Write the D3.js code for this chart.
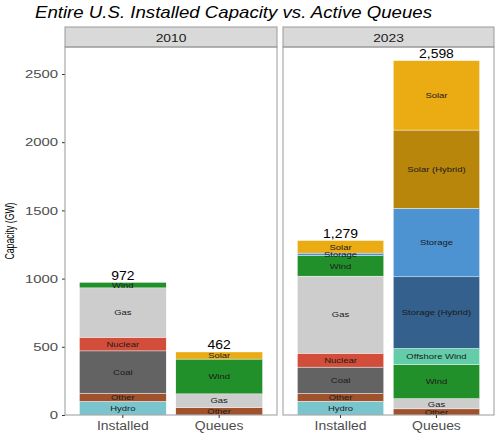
<!DOCTYPE html>
<html>
<head>
<meta charset="utf-8">
<script src="https://cdn.jsdelivr.net/npm/d3@7"></script>
<style>
  body { margin: 0; background: #fff; }
  svg { display: block; font-family: "Liberation Sans", Arial, sans-serif; }
</style>
</head>
<body>
<svg id="chart" width="499" height="435"></svg>
<script>
// ---- data ----
const years = ["2010", "2023"];
const categories = ["Installed", "Queues"];
const techs = ["Hydro", "Other", "Coal", "Nuclear", "Gas", "Wind", "Offshore Wind", "Storage (Hybrid)", "Storage", "Solar (Hybrid)", "Solar"];
const techColors = ["#7ac5cd", "#a0522d", "#636363", "#d24e3a", "#cdcdcd", "#22902a", "#63cdaa", "#33608c", "#4d93d2", "#b8860b", "#ebab13"];
const yTicks = [0, 500, 1000, 1500, 2000, 2500];
// stacks bottom → top
const installed2010 = [["Hydro", 100], ["Other", 60], ["Coal", 310], ["Nuclear", 100], ["Gas", 362], ["Wind", 40]];
const queues2010 = [["Other", 55], ["Gas", 100], ["Wind", 255], ["Solar", 52]];
const installed2023 = [["Hydro", 101], ["Other", 57], ["Coal", 193], ["Nuclear", 102], ["Gas", 565], ["Wind", 151], ["Storage", 18], ["Solar", 92]];
const queues2023 = [["Other", 45], ["Gas", 75], ["Wind", 251], ["Offshore Wind", 117], ["Storage (Hybrid)", 525], ["Storage", 502], ["Solar (Hybrid)", 574], ["Solar", 509]];
const totals = { "2010": { Installed: 972, Queues: 462 }, "2023": { Installed: 1279, Queues: 2598 } };

const stacks = {
  "2010": { Installed: installed2010, Queues: queues2010 },
  "2023": { Installed: installed2023, Queues: queues2023 }
};

const color = d3.scaleOrdinal().domain(techs).range(techColors);

// widen glyphs horizontally (reference text is stretched)
function stretch(sel, k) {
  sel.each(function () {
    const w = this.getComputedTextLength();
    if (w > 0) {
      this.setAttribute("textLength", w * k);
      this.setAttribute("lengthAdjust", "spacingAndGlyphs");
    }
  });
}

const svg = d3.select("#chart");

// title
const title = svg.append("text").attr("x", 35).attr("y", 18)
  .attr("font-size", 16.5).attr("font-style", "italic").attr("fill", "#000")
  .text("Entire U.S. Installed Capacity vs. Active Queues");
title.attr("textLength", 397).attr("lengthAdjust", "spacingAndGlyphs");

// layout
const panelTop = 47, panelBottom = 415, stripTop = 27;
const panelX = { "2010": [65, 277], "2023": [283, 494] };

const y = d3.scaleLinear().domain([0, 2500]).range([panelBottom, 74]);

// y axis label
svg.append("text")
  .attr("transform", `translate(14,${(panelTop + panelBottom) / 2}) rotate(-90)`)
  .attr("text-anchor", "middle").attr("font-size", 12).attr("fill", "#000")
  .attr("textLength", 57).attr("lengthAdjust", "spacingAndGlyphs")
  .text("Capacity (GW)");

// y axis
const yAxis = svg.append("g").attr("transform", `translate(${panelX["2010"][0]},0)`)
  .call(d3.axisLeft(y).tickValues(yTicks).tickSize(3).tickPadding(4).tickFormat(d3.format("d")));
yAxis.select(".domain").remove();
yAxis.selectAll("line").attr("stroke", "#333");
yAxis.selectAll("text").attr("font-size", 11.8).attr("fill", "#4d4d4d").attr("font-family", "Liberation Sans, Arial, sans-serif");
stretch(yAxis.selectAll("text"), 1.26);

years.forEach(yr => {
  const [x0, x1] = panelX[yr];
  const g = svg.append("g");
  // strip
  g.append("rect").attr("x", x0).attr("y", stripTop).attr("width", x1 - x0).attr("height", panelTop - stripTop)
    .attr("fill", "#d9d9d9").attr("stroke", "#9a9a9a").attr("stroke-width", 1);
  const st = g.append("text").attr("x", (x0 + x1) / 2).attr("y", stripTop + 14.5)
    .attr("text-anchor", "middle").attr("font-size", 11.5).attr("fill", "#1a1a1a").text(yr);
  stretch(st, 1.2);

  const x = d3.scaleBand().domain(categories).range([x0, x1]).paddingInner(0.1).paddingOuter(0.15);

  categories.forEach(cat => {
    let cum = 0;
    const segs = stacks[yr][cat].map(([t, v]) => { const s = { t, y0: cum, y1: cum + v }; cum += v; return s; });
    const bg = g.append("g");
    bg.selectAll("rect").data(segs).join("rect")
      .attr("x", x(cat)).attr("width", x.bandwidth())
      .attr("y", d => y(d.y1)).attr("height", d => y(d.y0) - y(d.y1))
      .attr("fill", d => color(d.t)).attr("stroke", "#fff").attr("stroke-width", 0.4);
    const lab = bg.selectAll("text").data(segs).join("text")
      .attr("x", x(cat) + x.bandwidth() / 2).attr("y", d => (y(d.y0) + y(d.y1)) / 2 + 2.8)
      .attr("text-anchor", "middle").attr("font-size", 8).attr("fill", "#1a1a1a")
      .text(d => d.t);
    stretch(lab, 1.18);
    const tot = g.append("text").attr("x", x(cat) + x.bandwidth() / 2).attr("y", y(totals[yr][cat]) - 2.5)
      .attr("text-anchor", "middle").attr("font-size", 12).attr("fill", "#000")
      .text(d3.format(",")(totals[yr][cat]));
    stretch(tot, 1.16);
  });

  // panel border
  g.append("rect").attr("x", x0).attr("y", panelTop).attr("width", x1 - x0).attr("height", panelBottom - panelTop)
    .attr("fill", "none").attr("stroke", "#9a9a9a").attr("stroke-width", 1);

  // x axis
  const xa = svg.append("g").attr("transform", `translate(0,${panelBottom})`)
    .call(d3.axisBottom(x).tickSize(3).tickPadding(3));
  xa.select(".domain").remove();
  xa.selectAll("line").attr("stroke", "#333");
  xa.selectAll("text").attr("font-size", 12).attr("fill", "#4d4d4d").attr("font-family", "Liberation Sans, Arial, sans-serif");
  stretch(xa.selectAll("text"), 1.16);
});
</script>
</body>
</html>
